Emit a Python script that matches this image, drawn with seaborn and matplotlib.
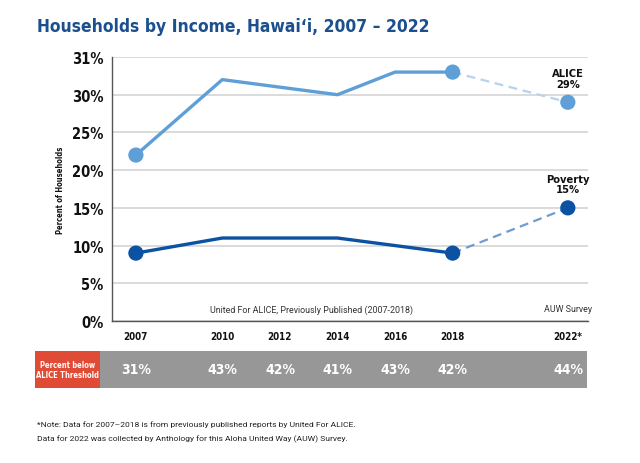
import pandas as pd
import matplotlib.pyplot as plt
import seaborn as sns
from matplotlib.patches import Rectangle

# Published data (United For ALICE, 2007-2018)
years = [2007, 2010, 2012, 2014, 2016, 2018]
alice = [22, 32, 31, 30, 33, 33]
poverty = [9, 11, 11, 11, 10, 9]

# AUW survey
survey_year = 2022
survey_alice = 29
survey_poverty = 15

# years with a dot on the line
marked_years = [2007, 2018, 2022]

# band under the chart
band_years = [2007, 2010, 2012, 2014, 2016, 2018, 2022]
below_alice = [31, 43, 42, 41, 43, 42, 44]

ytick_values = [0, 5, 10, 15, 20, 25, 30, 35]
ytick_labels = ["0%", "5%", "10%", "15%", "20%", "25%", "30%", "31%"]
xtick_labels = {2007: "2007", 2010: "2010", 2012: "2012", 2014: "2014",
                2016: "2016", 2018: "2018", 2022: "2022*"}

ALICE_C = "#5f9fd8"
ALICE_DASH = "#b8d2ec"
POV_C = "#0b52a3"
POV_DASH = "#6e9bd0"
TITLE_C = "#1b4f8d"

sns.set_style("white")
plt.rcParams["font.family"] = ["Roboto", "DejaVu Sans"]
# condensed bold face for headings and numbers
CF = dict(family="DejaVu Sans", fontweight="bold", fontstretch="condensed")

df = pd.DataFrame({"year": years, "alice": alice, "poverty": poverty})
df_survey = pd.DataFrame({
    "year": [years[-1], survey_year],
    "alice": [alice[-1], survey_alice],
    "poverty": [poverty[-1], survey_poverty],
})
df_all = pd.concat([df, df_survey.iloc[1:]], ignore_index=True)
df_marks = df_all[df_all["year"].isin(marked_years)]

fig = plt.figure(figsize=(6.4, 4.64), dpi=100)
ax = fig.add_axes([112 / 640, 1 - 322 / 464, (588 - 112) / 640, (322 - 58) / 464])

sns.lineplot(data=df, x="year", y="alice", color=ALICE_C, lw=2.4, ax=ax)
sns.lineplot(data=df, x="year", y="poverty", color=POV_C, lw=2.4, ax=ax)
sns.lineplot(data=df_survey, x="year", y="alice", color=ALICE_DASH, lw=1.6,
             linestyle=(0, (4, 2.5)), ax=ax)
sns.lineplot(data=df_survey, x="year", y="poverty", color=POV_DASH, lw=1.6,
             linestyle=(0, (4, 2.5)), ax=ax)
sns.scatterplot(data=df_marks, x="year", y="alice", color=ALICE_C, s=120,
                edgecolor="none", ax=ax, zorder=5)
sns.scatterplot(data=df_marks, x="year", y="poverty", color=POV_C, s=120,
                edgecolor="none", ax=ax, zorder=5)

ax.set_xlim(2006.17, 2022.7)
ax.set_ylim(0, 35)
ax.set_yticks(ytick_values)
ax.set_yticklabels(ytick_labels, fontsize=10.5, color="#111111", **CF)
all_years = list(range(2007, 2023))
ax.set_xticks(all_years)
ax.set_xticklabels([xtick_labels.get(y, "") for y in all_years], fontsize=7,
                   color="#111111", **CF)
ax.tick_params(axis="y", length=0, pad=6)
ax.tick_params(axis="x", length=4, width=1, color="#444444", pad=3)
ax.yaxis.grid(True, color="#d4d4d4", lw=1.2)
ax.set_axisbelow(True)
for side in ["top", "right"]:
    ax.spines[side].set_visible(False)
for side in ["left", "bottom"]:
    ax.spines[side].set_color("#555555")
    ax.spines[side].set_linewidth(1)
ax.set_xlabel("")
ax.set_ylabel("Percent of Households", fontsize=5.5, labelpad=5, color="#111111", **CF)

ax.text(survey_year, survey_alice + 1.8, "ALICE\n29%", ha="center", va="bottom",
        fontsize=8, linespacing=1.05, color="#111111", **CF)
ax.text(survey_year, survey_poverty + 1.8, "Poverty\n15%", ha="center", va="bottom",
        fontsize=8, linespacing=1.05, color="#111111", **CF)
ax.text(2013.1, 1.6, "United For ALICE, Previously Published (2007-2018)",
        ha="center", va="center", fontsize=6.4, color="#333333")
ax.text(2022.0, 1.6, "AUW Survey", ha="center", va="center",
        fontsize=6.4, color="#333333")

fig.text(37 / 640, 1 - 27 / 464, "Households by Income, Hawai\u02bbi, 2007 \u2013 2022",
         fontsize=12.5, color=TITLE_C, ha="left", va="center", **CF)

# band with share below ALICE threshold
band = fig.add_axes([35 / 640, 1 - 389 / 464, (587 - 35) / 640, (389 - 352) / 464])
band.set_xlim(2003.49, 2022.66)
band.set_ylim(0, 1)
band.axis("off")
band.add_patch(Rectangle((2005.74, 0), 2022.66 - 2005.74, 1, color="#979797", lw=0))
band.add_patch(Rectangle((2003.49, 0), 2005.74 - 2003.49, 1, color="#e04b35", lw=0))
band.text((2003.49 + 2005.74) / 2, 0.5, "Percent below\nALICE Threshold",
          ha="center", va="center", color="white", fontsize=5.5, linespacing=1.2, **CF)
for yr, val in zip(band_years, below_alice):
    band.text(yr, 0.5, f"{val}%", ha="center", va="center", color="white",
              fontsize=10, **CF)

fig.text(37 / 640, 1 - 425 / 464,
         "*Note: Data for 2007\u20132018 is from previously published reports by United For ALICE.",
         fontsize=6.1, color="#222222", va="center")
fig.text(37 / 640, 1 - 439 / 464,
         "Data for 2022 was collected by Anthology for this Aloha United Way (AUW) Survey.",
         fontsize=6.1, color="#222222", va="center")

plt.savefig("out.png", dpi=100)
